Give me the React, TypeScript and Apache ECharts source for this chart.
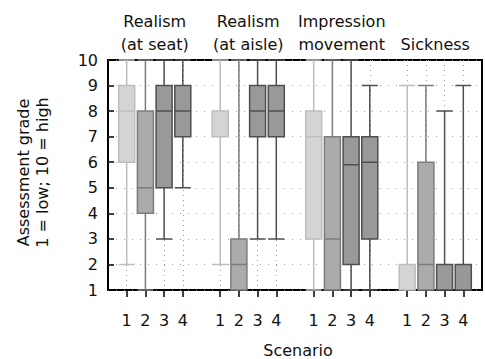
import React, { useEffect, useRef } from "react";
import * as echarts from "echarts";

// x categories: blank slots separate the four groups
const categories = ["", "1", "2", "3", "4", "", "1", "2", "3", "4", "", "1", "2", "3", "4", "", "1", "2", "3", "4", ""];
const groupTitles = [
  ["Realism", "(at seat)"],
  ["Realism", "(at aisle)"],
  ["Impression", "movement"],
  ["", "Sickness"],
];
// [min, Q1, median, Q3, max] for scenarios 1..4
const realismSeat = [[2, 6, 8, 9, 10], [1, 4, 5, 8, 10], [3, 5, 8, 9, 10], [5, 7, 8, 9, 10]];
const realismAisle = [[2, 7, 8, 8, 10], [1, 1, 2, 3, 10], [3, 7, 8, 9, 10], [3, 7, 8, 9, 10]];
const impressionMovement = [[1, 3, 7, 8, 10], [1, 1, 3, 7, 10], [1, 2, 5.9, 7, 10], [1, 3, 6, 7, 9]];
const sickness = [[1, 1, 1, 2, 9], [1, 1, 2, 6, 9], [1, 1, 1, 2, 8], [1, 1, 1, 2, 9]];
const groups = [realismSeat, realismAisle, impressionMovement, sickness];

const yAxisTitle = "Assessment grade\n1 = low; 10 = high";
const xAxisTitle = "Scenario";

const scenarioFill = ["#d4d4d4", "#ababab", "#999999", "#999999"];
const scenarioBorder = ["#bdbdbd", "#7c7c7c", "#4f4f4f", "#4f4f4f"];

const FONT = "DejaVu Sans";

export default function App() {
  const ref = useRef<HTMLDivElement>(null);
  useEffect(() => {
    if (!ref.current) return;
    const chart = echarts.init(ref.current, undefined, { renderer: "svg" });
    const data: any[] = [];
    groups.forEach((g, gi) => {
      g.forEach((stats, si) => {
        data.push({
          value: [gi * 5 + si + 1, ...stats],
          itemStyle: { color: scenarioFill[si], borderColor: scenarioBorder[si], borderWidth: 1.5 },
        });
      });
    });
    const isTick = (i: number) => categories[i] !== "";
    chart.setOption({
      animation: false,
      grid: { left: 108, top: 60, width: 380, height: 230, show: true, borderColor: "#000", borderWidth: 2, backgroundColor: "transparent" },
      xAxis: {
        type: "category",
        data: categories,
        boundaryGap: false,
        axisLine: { show: false },
        axisTick: { show: true, inside: false, length: 7, interval: isTick, lineStyle: { color: "#000", width: 1.5 } },
        axisLabel: { interval: 0, margin: 22, color: "#111", fontFamily: FONT, fontSize: 16 },
        splitLine: { show: true, interval: isTick, lineStyle: { color: "#999", width: 1, type: [1, 4] } },
      },
      yAxis: {
        type: "value",
        min: 1,
        max: 10,
        interval: 1,
        axisLine: { show: false },
        axisTick: { show: true, inside: true, length: 6, lineStyle: { color: "#000", width: 1.5 } },
        axisLabel: { margin: 10, color: "#111", fontFamily: FONT, fontSize: 16 },
        splitLine: { show: true, lineStyle: { color: "#999", width: 1, type: [1, 7] } },
      },
      series: [
        {
          type: "boxplot",
          boxWidth: [16, 16],
          encode: { x: 0, y: [1, 2, 3, 4, 5] },
          data,
          emphasis: { disabled: true },
        },
      ],
    });
    const graphics: any[] = [];
    groupTitles.forEach((lines, gi) => {
      const x1 = chart.convertToPixel({ xAxisIndex: 0 }, gi * 5 + 1) as number;
      const x4 = chart.convertToPixel({ xAxisIndex: 0 }, gi * 5 + 4) as number;
      const cx = (x1 + x4) / 2;
      lines.forEach((t, li) => {
        if (!t) return;
        graphics.push({
          type: "text",
          x: cx,
          y: li === 0 ? 21 : 44.5,
          style: { text: t, font: `16px "${FONT}"`, fill: "#111", textAlign: "center", textVerticalAlign: "middle" },
        });
      });
    });
    graphics.push({
      type: "text",
      x: 33,
      y: 172.5,
      rotation: Math.PI / 2,
      style: { text: yAxisTitle, font: `16px "${FONT}"`, fill: "#111", textAlign: "center", textVerticalAlign: "middle", lineHeight: 19 },
    });
    graphics.push({
      type: "text",
      x: 298,
      y: 350,
      style: { text: xAxisTitle, font: `16px "${FONT}"`, fill: "#111", textAlign: "center", textVerticalAlign: "middle" },
    });
    chart.setOption({ graphic: graphics });
    return () => chart.dispose();
  }, []);
  return <div ref={ref} style={{ position: "absolute", left: 0, top: 0, width: 485, height: 359 }} />;
}
